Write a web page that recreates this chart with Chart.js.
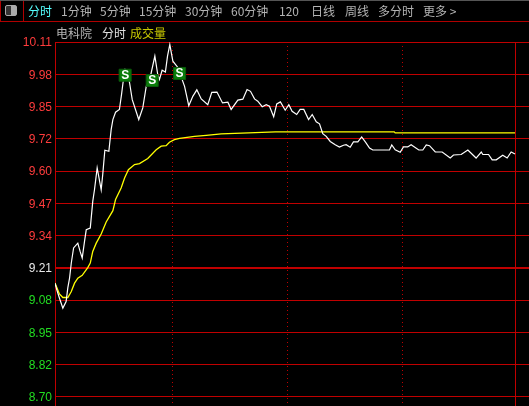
<!DOCTYPE html>
<html>
<head>
<meta charset="utf-8">
<title>电科院 分时</title>
<script src="https://cdn.jsdelivr.net/npm/chart.js@4/dist/chart.umd.min.js"></script>
<style>
  html, body { margin: 0; padding: 0; background: #000; overflow: hidden; }
  #wrap { position: relative; width: 529px; height: 406px; }
  #chart { position: absolute; left: 0; top: 0; }
  #bar { position: absolute; left: 0; top: 0; width: 529px; border-top: 1px solid #555; border-bottom: 1px solid #b00000; height: 20px; }
  #bar i { position: absolute; left: 23px; top: 0; width: 1px; height: 20px; background: #b00000; }
  #bar u { position: absolute; left: 0; top: 0; width: 1px; height: 20px; background: #b00000; }
  #bar b { position: absolute; left: 5px; top: 4px; width: 10px; height: 9px; border: 1px solid #aaa; border-radius: 2px; background: linear-gradient(90deg, #333 50%, #aaa 50%); }
  .t { position: absolute; font: 12px "Noto Sans CJK SC", sans-serif; line-height: 16px; white-space: nowrap; color: #b4b4b4; }
</style>
</head>
<body>
<div id="wrap">
  <canvas id="chart" width="529" height="406"></canvas>
  <div id="bar"><u></u><b></b><i></i></div>
  <div id="labels"></div>
</div>
<script>
var yTicks = [10.11, 9.982, 9.854, 9.725, 9.597, 9.469, 9.341, 9.213, 9.085, 8.956, 8.828, 8.70];
var yTickLabels = ['10.11', '9.98', '9.85', '9.72', '9.60', '9.47', '9.34', '9.21', '9.08', '8.95', '8.82', '8.70'];
var xTicks = [61.5, 121.5, 181.5, 240];

var priceMinutes = [0, 0.9, 2.3, 4.1, 5.8, 6.7, 7.6, 8.5, 9.7, 11.9, 13.1, 14.2, 15.4, 16.3, 18.4, 19.7, 20.6, 22, 24.1, 24.9, 26, 28.1, 29.3, 30.2, 31.6, 33.6, 34.7, 35.7, 36.6, 37.8, 38.9, 40.3, 43.7, 45.8, 47.6, 50, 52.1, 53.6, 54.5, 55.9, 57.6, 58.7, 59.9, 61.5, 64.1, 67.6, 69.8, 71.9, 74, 76.3, 79.7, 81.8, 84.5, 87.4, 90.2, 91.9, 95.4, 98, 100.2, 102, 104.1, 105.8, 108.1, 110.2, 111.9, 114.1, 115.7, 117.6, 120.1, 122, 123.7, 126.1, 127.9, 129.8, 132.3, 134.2, 136.3, 138, 139.7, 141.5, 143.6, 146.2, 148.4, 150.5, 151.9, 154, 155.7, 158, 160, 162, 164.1, 165.8, 174.5, 175.7, 177.5, 180.1, 181.8, 184, 185.8, 189.8, 191.9, 193.7, 195.4, 198.4, 202, 206.2, 207.9, 211.9, 215.4, 219.7, 222.4, 223.2, 226.2, 228.1, 230.2, 233.6, 235.9, 238, 240];
var priceValues = [9.152, 9.126, 9.093, 9.053, 9.079, 9.134, 9.172, 9.232, 9.292, 9.311, 9.278, 9.252, 9.318, 9.364, 9.371, 9.477, 9.523, 9.61, 9.523, 9.583, 9.68, 9.676, 9.762, 9.802, 9.831, 9.842, 9.901, 9.961, 10.001, 9.993, 9.948, 9.881, 9.802, 9.848, 9.934, 9.981, 10.054, 9.981, 9.961, 9.998, 9.991, 10.054, 10.1, 10.034, 10.009, 9.934, 9.857, 9.894, 9.92, 9.884, 9.861, 9.91, 9.911, 9.868, 9.871, 9.842, 9.879, 9.883, 9.921, 9.914, 9.884, 9.875, 9.853, 9.861, 9.855, 9.813, 9.864, 9.872, 9.839, 9.861, 9.835, 9.822, 9.842, 9.842, 9.802, 9.822, 9.793, 9.785, 9.746, 9.735, 9.715, 9.702, 9.693, 9.7, 9.702, 9.692, 9.713, 9.713, 9.733, 9.712, 9.689, 9.681, 9.681, 9.701, 9.682, 9.672, 9.693, 9.693, 9.702, 9.681, 9.681, 9.701, 9.698, 9.673, 9.673, 9.649, 9.661, 9.663, 9.681, 9.649, 9.673, 9.663, 9.663, 9.642, 9.642, 9.66, 9.649, 9.673, 9.665];

var avgMinutes = [0, 2.3, 4.1, 6.7, 8.5, 10.2, 11.9, 14.2, 17.1, 18.4, 19.7, 21.5, 24.1, 26.7, 30.2, 31.6, 34.5, 36.3, 38.3, 41.5, 44.1, 48.4, 52.8, 55.4, 58, 59.7, 62.3, 65, 72.8, 78.9, 86.7, 101, 115, 177, 177.5, 240];
var avgValues = [9.153, 9.109, 9.095, 9.095, 9.119, 9.152, 9.172, 9.183, 9.214, 9.232, 9.278, 9.311, 9.347, 9.395, 9.44, 9.484, 9.53, 9.57, 9.603, 9.623, 9.627, 9.647, 9.682, 9.696, 9.698, 9.712, 9.722, 9.727, 9.735, 9.739, 9.745, 9.749, 9.753, 9.753, 9.749, 9.749];

var sellMinutes = [36.6, 50.7, 65];
var sellValues = [9.978, 9.957, 9.985];
var sellLabel = 'S';

var tabs = [['分时', 28, '#5ff'], ['1分钟', 61], ['5分钟', 100], ['15分钟', 139], ['30分钟', 185], ['60分钟', 231], ['120', 279], ['日线', 311], ['周线', 345], ['多分时', 378], ['更多 >', 423]];
var titles = [['电科院', 56, '#b4b4b4'], ['分时', 102, '#e0e0e0'], ['成交量', 130, '#c8c800']];

var GRID = '#c00000';
var RED = '#ff3c3c';
var GREEN = '#22dd22';

function addText(list, top) {
  var box = document.getElementById('labels');
  list.forEach(function (t) {
    var el = document.createElement('span');
    el.className = 't';
    el.textContent = t[0];
    el.style.left = t[1] + 'px';
    el.style.top = top + 'px';
    if (t[2]) el.style.color = t[2];
    box.appendChild(el);
  });
}
addText(tabs, 3);
addText(titles, 25);

function points(xs, ys) {
  return xs.map(function (x, i) {
    return { x: x, y: ys[i] };
  });
}

// the S on each sell marker, drawn over the point
var sellText = {
  id: 'sellText',
  afterDatasetsDraw: function (chart) {
    var ctx = chart.ctx;
    ctx.save();
    ctx.fillStyle = '#fff';
    ctx.font = 'bold 12px "Liberation Sans"';
    ctx.textAlign = 'center';
    ctx.textBaseline = 'middle';
    chart.getDatasetMeta(0).data.forEach(function (p) {
      ctx.fillText(sellLabel, p.x, p.y + 0.5);
    });
    ctx.restore();
  },
};

new Chart(document.getElementById('chart'), {
  type: 'scatter',
  data: {
    // Chart.js paints the last dataset first, so the markers go first to stay on top
    datasets: [
      { data: points(sellMinutes, sellValues), pointStyle: 'rect', pointRadius: 8.5, backgroundColor: '#0a7d0a', borderColor: '#0a5a0a', borderWidth: 1 },
      { data: points(priceMinutes, priceValues), showLine: true, borderColor: '#ffffff', borderWidth: 1.2, pointRadius: 0 },
      { data: points(avgMinutes, avgValues), showLine: true, borderColor: '#ffff00', borderWidth: 1.3, pointRadius: 0 },
    ],
  },
  options: {
    responsive: false,
    animation: false,
    plugins: { legend: { display: false }, tooltip: { enabled: false } },
    layout: { autoPadding: false, padding: { top: 42 } },
    scales: {
      x: {
        type: 'linear',
        min: 0,
        max: 247.3,
        afterBuildTicks: function (axis) {
          axis.ticks = xTicks.map(function (v) {
            return { value: v };
          });
        },
        afterFit: function (axis) {
          axis.height = 0;
        },
        ticks: { display: false },
        grid: { color: GRID, drawTicks: false, lineWidth: 1 },
        border: {
          display: false,
          dash: function (c) {
            return c.tick && c.tick.value < 240 ? [1, 3] : [];
          },
        },
      },
      y: {
        min: 8.664,
        max: 10.11,
        afterBuildTicks: function (axis) {
          axis.ticks = yTicks.map(function (v) {
            return { value: v };
          });
        },
        afterFit: function (axis) {
          axis.width = 55;
          // labels may overhang the plot; no room is reserved for them
          axis.paddingTop = 0;
          axis.paddingBottom = 0;
        },
        ticks: {
          padding: 3,
          labelOffset: 1,
          autoSkip: false,
          font: { family: '"Liberation Sans"', size: 12 },
          callback: function (v, i) {
            return yTickLabels[i];
          },
          color: function (c) {
            if (c.index < 7) return RED;
            return c.index === 7 ? '#e8e8e8' : GREEN;
          },
        },
        grid: {
          color: GRID,
          drawTicks: false,
          lineWidth: function (c) {
            return c.index === 7 ? 2 : 1;
          },
        },
        border: { color: GRID },
      },
    },
  },
  plugins: [sellText],
});
</script>
</body>
</html>
